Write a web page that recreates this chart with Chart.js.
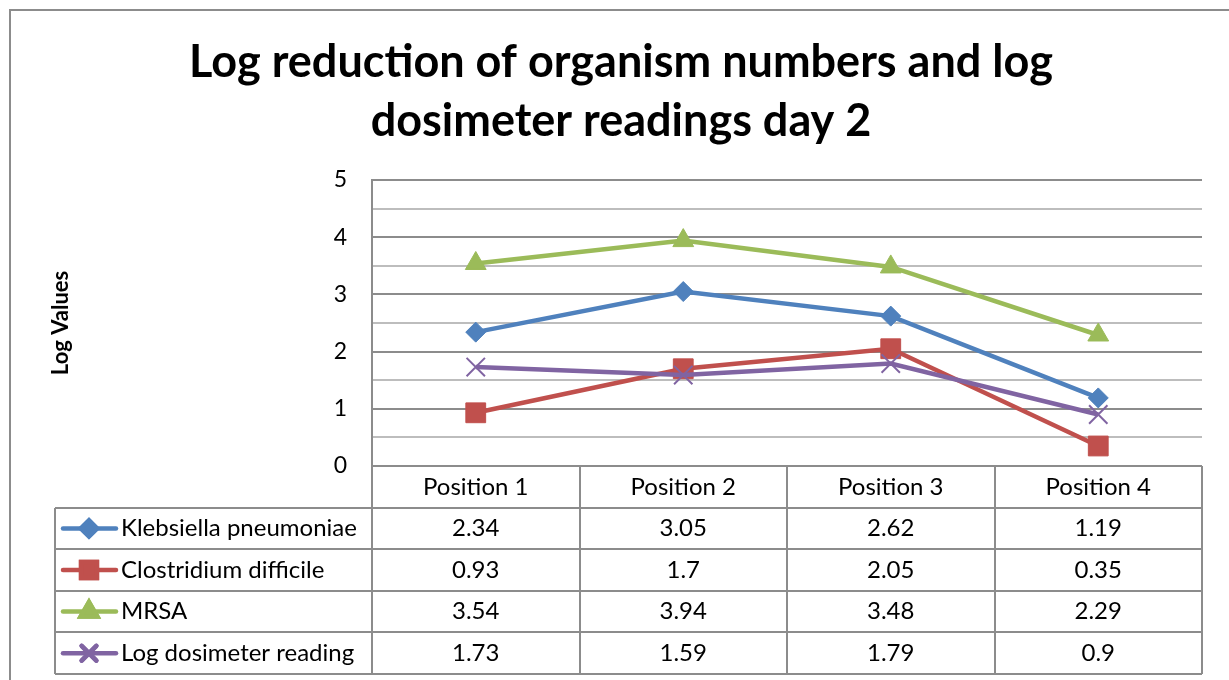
<!DOCTYPE html>
<html>
<head>
<meta charset="utf-8">
<script src="https://cdn.jsdelivr.net/npm/chart.js@4.4.0/dist/chart.umd.min.js"></script>
<style>
  html, body { margin: 0; padding: 0; background: #fff; }
  canvas { display: block; }
</style>
</head>
<body>
<canvas id="chart" width="1229" height="680"></canvas>
<script>
const categories = ['Position 1', 'Position 2', 'Position 3', 'Position 4'];
const seriesNames = ['Klebsiella pneumoniae', 'Clostridium difficile', 'MRSA', 'Log dosimeter reading'];
const klebsiella = [2.34, 3.05, 2.62, 1.19];
const clostridium = [0.93, 1.7, 2.05, 0.35];
const mrsa = [3.54, 3.94, 3.48, 2.29];
const dosimeter = [1.73, 1.59, 1.79, 0.9];
const yTicks = [0, 1, 2, 3, 4, 5];

const colors = ['#4F81BD', '#C0504D', '#9BBB59', '#8064A2'];
const markers = ['rectRot', 'rect', 'triangle', 'crossRot'];
const radii = [10, 14, 12, 13];
const seriesData = [klebsiella, clostridium, mrsa, dosimeter];

const FONT = 'Lato, Carlito, Calibri, sans-serif';
const gridMajor = '#8c8c8c';
const gridMinor = '#bdbdbd';

// excel-like frame behind everything
const framePlugin = {
    id: 'frame',
    beforeDraw(chart) {
        const ctx = chart.ctx;
        ctx.save();
        ctx.fillStyle = '#fff';
        ctx.fillRect(0, 0, chart.width, chart.height);
        ctx.strokeStyle = '#8c8c8c';
        ctx.lineWidth = 2;
        ctx.strokeRect(10, 10, 1400, 900);
        ctx.restore();
    }
};

// data table under the plot, columns follow the x scale
const tablePlugin = {
    id: 'dataTable',
    afterDraw(chart) {
        const ctx = chart.ctx;
        const area = chart.chartArea;
        const xs = chart.scales.x;
        const colW = (area.right - area.left) / categories.length;
        const rowH = 41.6;
        const top = area.bottom;
        const legendLeft = 55;
        const bottom = top + rowH * (seriesNames.length + 1);

        ctx.save();
        ctx.strokeStyle = gridMajor;
        ctx.lineWidth = 2;

        // horizontal lines
        ctx.beginPath();
        ctx.moveTo(area.left, top);
        ctx.lineTo(area.right, top);
        for (let r = 1; r <= seriesNames.length + 1; r++) {
            const y = Math.round(top + rowH * r);
            ctx.moveTo(legendLeft, y);
            ctx.lineTo(area.right, y);
        }
        // vertical lines
        for (let c = 0; c <= categories.length; c++) {
            const x = Math.round(area.left + colW * c);
            ctx.moveTo(x, top);
            ctx.lineTo(x, bottom);
        }
        ctx.moveTo(legendLeft, Math.round(top + rowH));
        ctx.lineTo(legendLeft, bottom);
        ctx.stroke();

        ctx.fillStyle = '#000';
        ctx.font = '24px ' + FONT;
        ctx.textAlign = 'center';
        ctx.textBaseline = 'middle';
        categories.forEach((cat, i) => {
            ctx.fillText(cat, xs.getPixelForValue(i), top + rowH / 2);
        });

        seriesNames.forEach((name, s) => {
            const cy = top + rowH * (s + 1.5);
            seriesData[s].forEach((v, i) => {
                ctx.textAlign = 'center';
                ctx.fillText(String(v), xs.getPixelForValue(i), cy);
            });
            // legend key
            ctx.strokeStyle = colors[s];
            ctx.lineWidth = 4.5;
            ctx.lineCap = 'round';
            ctx.beginPath();
            ctx.moveTo(63, cy);
            ctx.lineTo(116, cy);
            ctx.stroke();
            ctx.fillStyle = colors[s];
            Chart.helpers.drawPoint(ctx, {
                pointStyle: markers[s],
                radius: radii[s] * 0.8,
                rotation: 0,
                borderWidth: markers[s] === 'crossRot' ? 2 : 1
            }, 89, cy);
            ctx.fill();
            ctx.stroke();
            ctx.fillStyle = '#000';
            ctx.textAlign = 'left';
            ctx.fillText(name, 121, cy);
        });
        ctx.restore();
    }
};

new Chart(document.getElementById('chart'), {
    type: 'line',
    data: {
        labels: categories,
        datasets: seriesNames.map((name, s) => ({
            label: name,
            data: seriesData[s],
            borderColor: colors[s],
            backgroundColor: colors[s],
            borderWidth: 4.5,
            pointStyle: markers[s],
            pointRadius: radii[s],
            pointBorderWidth: markers[s] === 'crossRot' ? 2 : 1,
            tension: 0,
            order: seriesNames.length - s
        }))
    },
    options: {
        responsive: false,
        animation: false,
        devicePixelRatio: 1,
        layout: { padding: { left: 40, right: 27, top: 32, bottom: 214 } },
        plugins: {
            legend: { display: false },
            tooltip: { enabled: false },
            title: {
                display: true,
                text: ['Log reduction of organism numbers and log', 'dosimeter readings day 2'],
                color: '#000',
                font: { family: FONT, size: 45, weight: 'bold', lineHeight: 1.333 },
                padding: { top: 0, bottom: 28 }
            }
        },
        scales: {
            x: {
                display: false,
                offset: true
            },
            y: {
                min: 0,
                max: 5,
                afterFit(scale) { scale.width = 332; },
                afterBuildTicks(scale) {
                    scale.ticks = [];
                    for (let i = 0; i < yTicks.length; i++) {
                        scale.ticks.push({ value: yTicks[i] });
                        if (i < yTicks.length - 1) scale.ticks.push({ value: (yTicks[i] + yTicks[i + 1]) / 2 });
                    }
                },
                ticks: {
                    autoSkip: false,
                    padding: 25,
                    color: '#000',
                    font: { family: FONT, size: 23 },
                    callback: v => (Number.isInteger(v) ? String(v) : '')
                },
                grid: {
                    drawTicks: false,
                    lineWidth: 2,
                    color: ctx => (ctx.tick && Number.isInteger(ctx.tick.value) ? gridMajor : gridMinor)
                },
                border: { display: true, color: gridMajor, width: 2 },
                title: {
                    display: true,
                    text: 'Log Values',
                    color: '#000',
                    font: { family: FONT, size: 22, weight: 'bold', lineHeight: 1.2 },
                    padding: { top: 8, bottom: 0 }
                }
            }
        }
    },
    plugins: [framePlugin, tablePlugin]
});
</script>
</body>
</html>
